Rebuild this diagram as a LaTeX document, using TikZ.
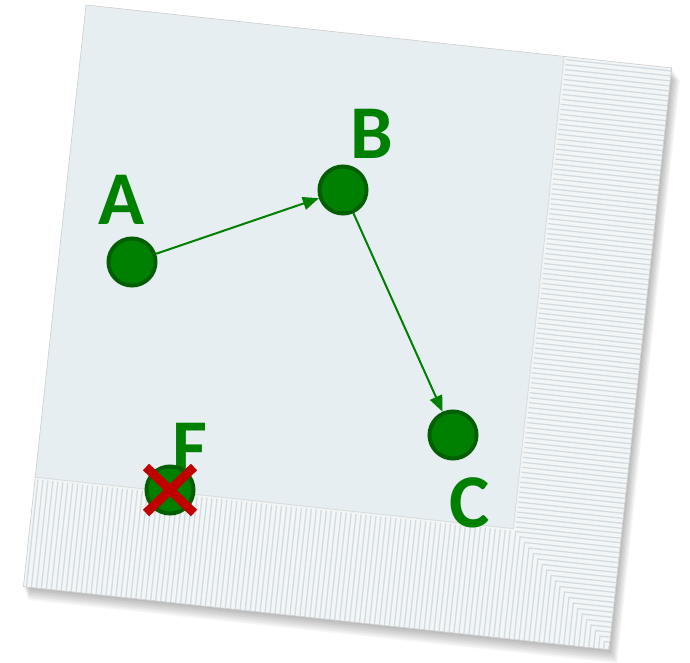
\documentclass[tikz,border=0pt]{standalone}
\usepackage{fontspec}
\newfontfamily\labfont{Carlito}
\usetikzlibrary{arrows.meta,calc}
\definecolor{napkin}{HTML}{E7EEF1}
\definecolor{fringe}{HTML}{F3F6F7}
\definecolor{rib}{HTML}{D2DBDF}
\definecolor{nodegreen}{HTML}{008000}
\definecolor{nodeborder}{HTML}{005F00}
\definecolor{crossred}{HTML}{C00000}
\begin{document}
\begin{tikzpicture}[x=1pt,y=-1pt,
  vertex/.style={circle, fill=nodegreen, draw=nodeborder, line width=4pt, minimum size=47pt, inner sep=0pt, outer sep=2pt},
  lab/.style={font=\labfont\bfseries\fontsize{76}{76}\selectfont, text=nodegreen, inner sep=0pt},
  edge/.style={draw=nodegreen, line width=2pt, -{Triangle[length=16pt,width=13pt]}},
  cross/.style={draw=crossred, line width=9pt},
  ribline/.style={draw=rib, line width=1.3pt}]
\useasboundingbox (0,0) rectangle (690,663);
\fill[white] (0,0) rectangle (690,663);
% napkin
\begin{scope}[shift={(86,5)}, rotate=-6.14]
  \foreach \i in {1,...,8}
    \fill[black, opacity=0.035] (\i*0.8, \i*1.4) rectangle (589+\i*1.2, 585+\i*1.6);
  \fill[napkin] (0,0) rectangle (589,585);
  \fill[fringe] (481,0) rectangle (589,585);
  \fill[fringe] (0,475) rectangle (589,585);
  \foreach \y in {3,8,...,473} \draw[ribline] (483,\y) -- (589,\y);
  \foreach \x in {3,8,...,478} \draw[ribline] (\x,477) -- (\x,585);
  \foreach \t in {2.5,7.5,...,107.5}
    \draw[ribline] (481+\t,585) -- (481+\t,475+\t) -- (589,475+\t);
  \draw[black, opacity=0.08, line width=1pt] (481,0) -- (481,475) -- (0,475);
  \draw[gray!40, line width=0.6pt] (0,0) rectangle (589,585);
\end{scope}
% labels (behind the nodes)
\node[lab] (lA) at (122,200) {A};
\node[lab] (lB) at (372,134) {B};
\node[lab] (lC) at (470,503) {C};
\node[lab] (lF) at (190,448) {F};
% nodes
\node[vertex] (A) at (132,262) {};
\node[vertex] (B) at (343,190) {};
\node[vertex] (C) at (453,435) {};
\node[vertex] (F) at (170,490) {};
% edges
\draw[edge] (A) -- (B);
\draw[edge] (B) -- (C);
% cross on F
\draw[cross] ($(F)+(-24,-23)$) -- ($(F)+(24,23)$);
\draw[cross] ($(F)+(24,-23)$) -- ($(F)+(-24,23)$);
\end{tikzpicture}
\end{document}
